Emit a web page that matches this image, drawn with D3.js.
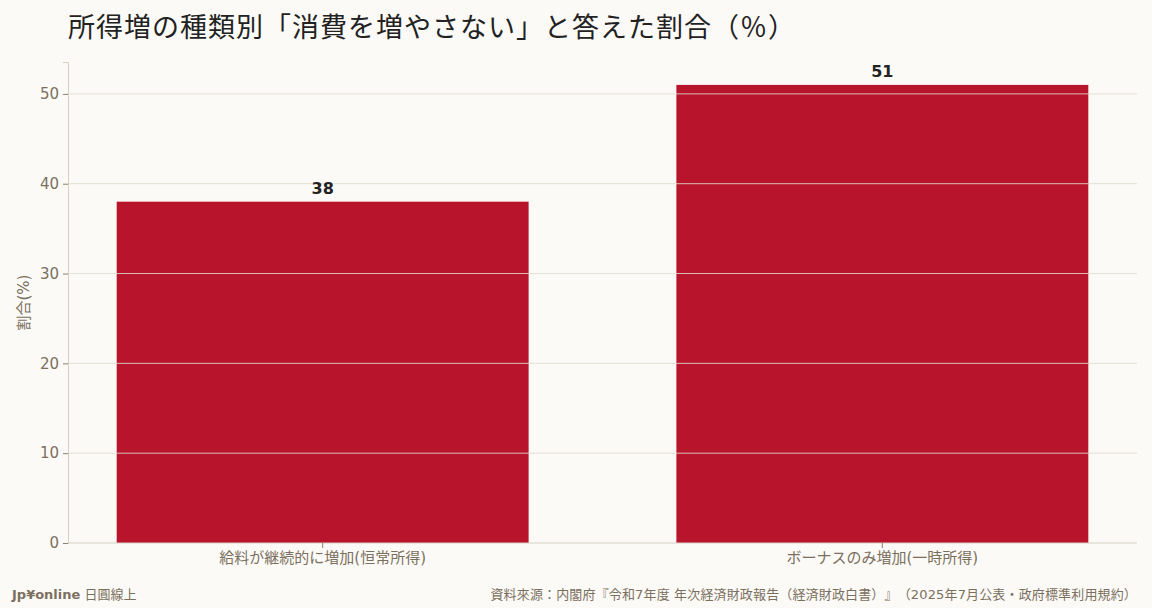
<!DOCTYPE html>
<html>
<head>
<meta charset="utf-8">
<script src="https://cdn.jsdelivr.net/npm/d3@7"></script>
<style>
  body { margin: 0; background: #fbfaf6; }
  svg { display: block; }
  text { text-spacing-trim: space-all; }
</style>
</head>
<body>
<script>
// datos del grafico
var categorias = ["給料が継続的に増加(恒常所得)", "ボーナスのみ増加(一時所得)"];
var valores    = [38, 51];
var ticksY     = [0, 10, 20, 30, 40, 50];

var ancho = 1152, alto = 608;
var margen = { izq: 68, der: 15, arr: 62, abj: 65 };

var fuente = "'DejaVu Sans', 'Noto Sans CJK JP', sans-serif";
var colorTexto = "#7b705f";

var svg = d3.select("body").append("svg")
    .attr("width", ancho)
    .attr("height", alto)
    .style("background", "#fbfaf6");

var x = d3.scaleBand()
    .domain(categorias)
    .range([margen.izq, ancho - margen.der])
    .paddingInner(0.264)
    .paddingOuter(0.087);

var y = d3.scaleLinear()
    .domain([0, d3.max(valores) * 1.05])
    .range([alto - margen.abj, margen.arr]);

// barras
svg.append("g").selectAll("rect")
    .data(valores)
    .enter().append("rect")
    .attr("x", function (d, i) { return x(categorias[i]); })
    .attr("y", function (d) { return y(d); })
    .attr("width", x.bandwidth())
    .attr("height", function (d) { return y(0) - y(d); })
    .style("fill", "#b8142c");

// cuadricula (encima de las barras)
svg.append("g").selectAll("line")
    .data(ticksY.slice(1))
    .enter().append("line")
    .attr("x1", margen.izq)
    .attr("x2", ancho - margen.der)
    .attr("y1", function (d) { return y(d); })
    .attr("y2", function (d) { return y(d); })
    .style("stroke", "#e2dccf")
    .style("stroke-width", 1)
    .style("opacity", 0.85);

// etiquetas de valor
svg.append("g").selectAll("text")
    .data(valores)
    .enter().append("text")
    .attr("x", function (d, i) { return x(categorias[i]) + x.bandwidth() / 2; })
    .attr("y", function (d) { return y(d) - 8; })
    .attr("text-anchor", "middle")
    .style("font-family", fuente)
    .style("font-size", "16px")
    .style("font-weight", "bold")
    .style("fill", "#222")
    .text(function (d) { return d; });

// ejes
var ejeY = svg.append("g")
    .attr("transform", "translate(" + margen.izq + ",0)")
    .call(d3.axisLeft(y).tickValues(ticksY).tickSize(5).tickPadding(4));

var ejeX = svg.append("g")
    .attr("transform", "translate(0," + (alto - margen.abj) + ")")
    .call(d3.axisBottom(x).tickSize(5).tickPadding(4));

ejeX.select(".domain").attr("d", "M" + margen.izq + ",0H" + (ancho - margen.der));

[ejeY, ejeX].forEach(function (eje) {
    eje.select(".domain").style("stroke", "#d6cfc2");
    eje.selectAll(".tick line").style("stroke", "#8a8070");
    eje.selectAll("text")
        .style("font-family", fuente)
        .style("fill", colorTexto);
});
ejeY.selectAll("text").style("font-size", "15px");
ejeX.selectAll("text").style("font-size", "15px");

// titulo del eje Y
svg.append("text")
    .attr("transform", "translate(29," + ((margen.arr + alto - margen.abj) / 2) + ") rotate(-90)")
    .attr("text-anchor", "middle")
    .style("font-family", fuente)
    .style("font-size", "15px")
    .style("fill", colorTexto)
    .text("割合(%)");

// titulo
svg.append("text")
    .attr("x", 68)
    .attr("y", 37)
    .style("font-family", fuente)
    .style("font-size", "27px")
    .style("letter-spacing", "1px")
    .style("fill", "#222")
    .text("所得増の種類別「消費を増やさない」と答えた割合（％）");

// pie de pagina
var pie = svg.append("text")
    .attr("x", 12)
    .attr("y", 599)
    .style("font-family", fuente)
    .style("font-size", "13px")
    .style("fill", colorTexto);
pie.append("tspan").style("font-weight", "bold").text("Jp¥online");
pie.append("tspan").text(" 日圓線上");

svg.append("text")
    .attr("x", ancho - 15)
    .attr("y", 599)
    .attr("text-anchor", "end")
    .style("font-family", fuente)
    .style("font-size", "13px")
    .style("letter-spacing", "0.15px")
    .style("fill", colorTexto)
    .text("資料來源：内閣府『令和7年度 年次経済財政報告（経済財政白書）』（2025年7月公表・政府標準利用規約）");
</script>
</body>
</html>
